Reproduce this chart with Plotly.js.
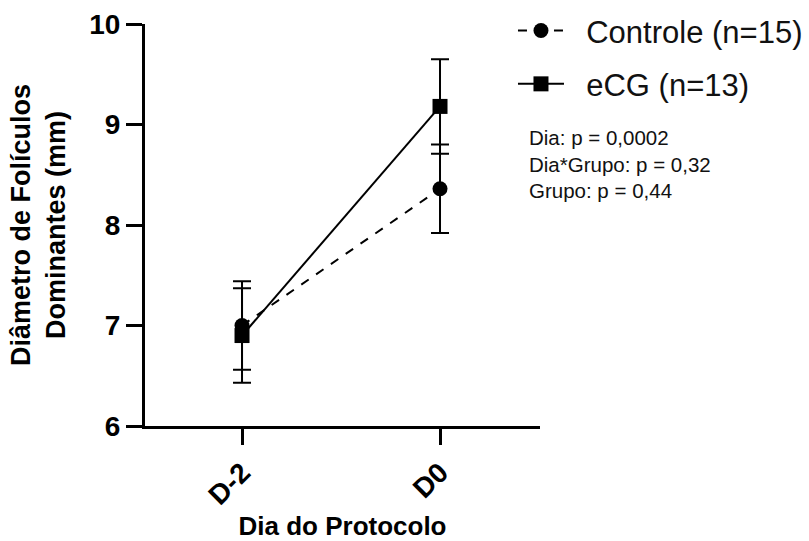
<!DOCTYPE html>
<html>
<head>
<meta charset="utf-8">
<script src="https://cdn.plot.ly/plotly-3.0.1.min.js"></script>
<style>html,body{margin:0;padding:0;background:#fff;}#chart{width:809px;height:541px;}</style>
</head>
<body>
<div id="chart"></div>
<script>
var categories = ["D-2", "D0"];
var controleMean = [7.00, 8.36];
var controleErr = [0.44, 0.44];
var ecgMean = [6.90, 9.18];
var ecgErr = [0.47, 0.47];
var seriesNames = ["Controle (n=15)", "eCG (n=13)"];
var yTicks = [6, 7, 8, 9, 10];
var statsText = ["Dia: p = 0,0002", "Dia*Grupo: p = 0,32", "Grupo: p = 0,44"];

var FONT = "Liberation Sans, Arial, Helvetica, sans-serif";
var GAP = "\u00a0\u00a0";

var traces = [
  {
    x: categories, y: controleMean, name: GAP + seriesNames[0], type: "scatter", mode: "lines+markers",
    legendgroup: "a",
    line: {color: "#000", width: 2, dash: "dash"},
    marker: {symbol: "circle", size: 15, color: "#000"},
    error_y: {type: "data", array: controleErr, visible: true, color: "#000", thickness: 2, width: 9}
  },
  {
    x: categories, y: ecgMean, name: GAP + seriesNames[1], type: "scatter", mode: "lines+markers",
    legendgroup: "b",
    line: {color: "#000", width: 2},
    marker: {symbol: "square", size: 15, color: "#000"},
    error_y: {type: "data", array: ecgErr, visible: true, color: "#000", thickness: 2, width: 9}
  }
];

var layout = {
  width: 809, height: 541,
  margin: {l: 145, r: 269, t: 24, b: 115, pad: 0, autoexpand: false},
  paper_bgcolor: "#fff", plot_bgcolor: "#fff",
  showlegend: true,
  font: {family: FONT, color: "#000"},
  xaxis: {
    type: "category", range: [-0.49, 1.505],
    showline: true, linecolor: "#000", linewidth: 3,
    showgrid: false, zeroline: false,
    ticks: "outside", ticklen: 16, tickwidth: 3, tickcolor: "#000",
    tickangle: -45,
    tickfont: {family: FONT, size: 28, weight: "bold", color: "#000"},
    title: {text: "Dia do Protocolo", font: {family: FONT, size: 26, weight: "bold", color: "#000"}, standoff: 12},
    automargin: false
  },
  yaxis: {
    range: [6, 10], tickvals: yTicks,
    showline: true, linecolor: "#000", linewidth: 3,
    showgrid: false, zeroline: false,
    ticks: "outside", ticklen: 16, tickwidth: 3, tickcolor: "#000",
    tickfont: {family: FONT, size: 28, weight: "bold", color: "#000"},
    title: {text: "Diâmetro de Folículos<br>Dominantes (mm)", font: {family: FONT, size: 27, weight: "bold", color: "#000"}, standoff: 16},
    automargin: false
  },
  legend: {
    x: 0.9316, y: 1.05, xanchor: "left", yanchor: "top",
    font: {family: FONT, size: 31, color: "#111"},
    bgcolor: "rgba(0,0,0,0)",
    traceorder: "grouped", tracegroupgap: 10,
    itemwidth: 46
  },
  annotations: [{
    xref: "paper", yref: "paper", x: 0.968, y: 0.752, xanchor: "left", yanchor: "top",
    align: "left", showarrow: false,
    text: statsText.join("<br>"),
    font: {family: FONT, size: 20.5, color: "#111"}
  }]
};

Plotly.newPlot("chart", traces, layout, {displayModeBar: false, staticPlot: true});
</script>
</body>
</html>
